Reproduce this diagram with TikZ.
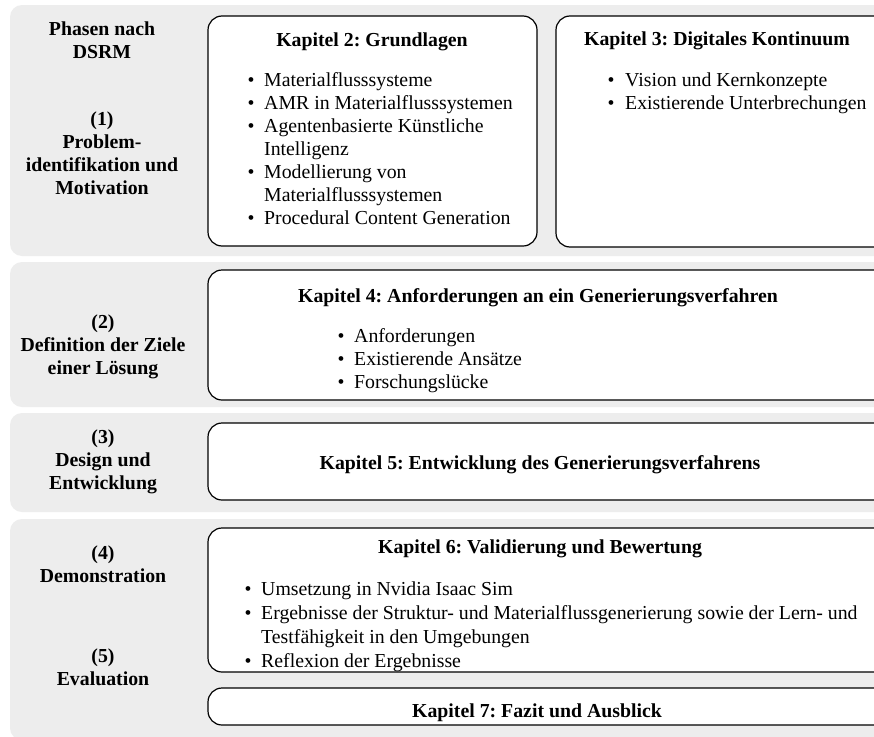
\documentclass[tikz,border=0pt]{standalone}
\usepackage{fontspec}
\setmainfont{Liberation Serif}
\newcommand{\fs}{\fontsize{19.8}{23.3}\selectfont\frenchspacing}
\definecolor{bandgray}{HTML}{EDEDED}
\tikzset{
  band/.style={fill=bandgray, draw=none, rounded corners=12pt},
  chapbox/.style={fill=white, draw=black, line width=1.2pt, rounded corners=14pt},
  phase/.style={anchor=base, inner sep=0pt, font=\fs\bfseries},
  ttl/.style={anchor=base, inner sep=0pt, font=\fs\bfseries},
  itemtxt/.style={anchor=base west, inner sep=0pt, font=\fs},
  dot/.style={anchor=base, inner sep=0pt, font=\fs},
}
\begin{document}
\begin{tikzpicture}[x=1pt, y=-1pt]
\useasboundingbox (0,0) rectangle (874,736);
\clip (0,0) rectangle (874,736);
\fill[white] (0,0) rectangle (874,736);

% phase bands
\fill[band] (10,5) rectangle (900,256);
\fill[band] (10,262) rectangle (900,407);
\fill[band] (10,413) rectangle (900,512);
\fill[band] (10,519) rectangle (900,740);

% chapter boxes
\draw[chapbox] (208,16) rectangle (537,246);
\draw[chapbox] (556,16) rectangle (900,247);
\draw[chapbox] (208,270) rectangle (900,400);
\draw[chapbox] (208,423) rectangle (900,500);
\draw[chapbox] (208,528) rectangle (900,672);
\draw[chapbox] (208,688) rectangle (900,725);

% DSRM phases
\node[phase] (ph0a) at (102,35) {Phasen nach};
\node[phase] (ph0b) at (102,58) {DSRM};
\node[phase] (ph1a) at (102,125) {(1)};
\node[phase] (ph1b) at (102,148) {Problem-};
\node[phase] (ph1c) at (102,171) {identifikation und};
\node[phase] (ph1d) at (102,194) {Motivation};
\node[phase] (ph2a) at (103,328) {(2)};
\node[phase] (ph2b) at (103,351) {Definition der Ziele};
\node[phase] (ph2c) at (103,374) {einer Lösung};
\node[phase] (ph3a) at (103,443) {(3)};
\node[phase] (ph3b) at (103,466) {Design und};
\node[phase] (ph3c) at (103,489) {Entwicklung};
\node[phase] (ph4a) at (103,559) {(4)};
\node[phase] (ph4b) at (103,582) {Demonstration};
\node[phase] (ph5a) at (103,662) {(5)};
\node[phase] (ph5b) at (103,685) {Evaluation};

% chapter 2
\node[ttl] (k2) at (372,46) {Kapitel 2: Grundlagen};
\node[dot] (k2d1) at (251,86) {\textbullet};
\node[itemtxt] (k2t1) at (264,86) {Materialflusssysteme};
\node[dot] (k2d2) at (251,109) {\textbullet};
\node[itemtxt] (k2t2) at (264,109) {AMR in Materialflusssystemen};
\node[dot] (k2d3) at (251,132) {\textbullet};
\node[itemtxt] (k2t3) at (264,132) {Agentenbasierte Künstliche};
\node[itemtxt] (k2t3b) at (264,155) {Intelligenz};
\node[dot] (k2d4) at (251,178) {\textbullet};
\node[itemtxt] (k2t4) at (264,178) {Modellierung von};
\node[itemtxt] (k2t4b) at (264,201) {Materialflusssystemen};
\node[dot] (k2d5) at (251,224) {\textbullet};
\node[itemtxt] (k2t5) at (264,224) {Procedural Content Generation};

% chapter 3
\node[ttl] (k3) at (717,45) {Kapitel 3: Digitales Kontinuum};
\node[dot] (k3d1) at (611,86) {\textbullet};
\node[itemtxt] (k3t1) at (625,86) {Vision und Kernkonzepte};
\node[dot] (k3d2) at (611,109) {\textbullet};
\node[itemtxt] (k3t2) at (625,109) {Existierende Unterbrechungen};

% chapter 4
\node[ttl] (k4) at (538,302) {Kapitel 4: Anforderungen an ein Generierungsverfahren};
\node[dot] (k4d1) at (341,342) {\textbullet};
\node[itemtxt] (k4t1) at (354,342) {Anforderungen};
\node[dot] (k4d2) at (341,365) {\textbullet};
\node[itemtxt] (k4t2) at (354,365) {Existierende Ansätze};
\node[dot] (k4d3) at (341,388) {\textbullet};
\node[itemtxt] (k4t3) at (354,388) {Forschungslücke};

% chapter 5
\node[ttl] (k5) at (540,469) {Kapitel 5: Entwicklung des Generierungsverfahrens};

% chapter 6
\node[ttl] (k6) at (540,553) {Kapitel 6: Validierung und Bewertung};
\node[dot] (k6d1) at (248,595) {\textbullet};
\node[itemtxt] (k6t1) at (261,595) {Umsetzung in Nvidia Isaac Sim};
\node[dot] (k6d2) at (248,619) {\textbullet};
\node[itemtxt] (k6t2) at (261,619) {Ergebnisse der Struktur- und Materialflussgenerierung sowie der Lern- und};
\node[itemtxt] (k6t2b) at (261,643) {Testfähigkeit in den Umgebungen};
\node[dot] (k6d3) at (248,667) {\textbullet};
\node[itemtxt] (k6t3) at (261,667) {Reflexion der Ergebnisse};

% chapter 7
\node[ttl] (k7) at (537,717) {Kapitel 7: Fazit und Ausblick};
\end{tikzpicture}
\end{document}
